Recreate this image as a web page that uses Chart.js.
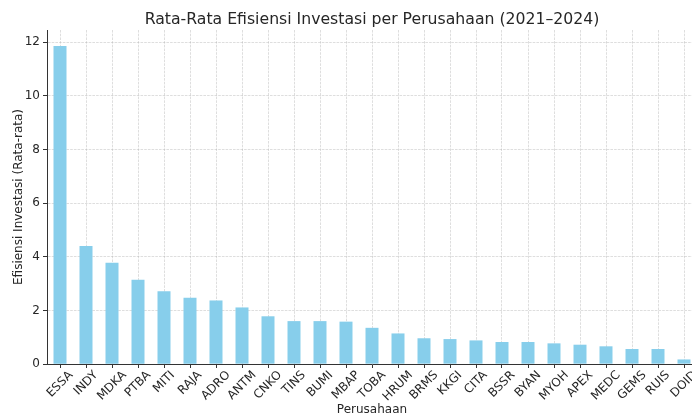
<!DOCTYPE html>
<html>
<head>
<meta charset="utf-8">
<script src="https://cdn.jsdelivr.net/npm/chart.js@4/dist/chart.umd.min.js"></script>
<style>
html,body{margin:0;padding:0;background:#fff;overflow:hidden;}
#wrap{width:692px;height:417px;overflow:hidden;position:relative;}
canvas{display:block;}
</style>
</head>
<body>
<div id="wrap"><canvas id="c" width="744" height="417" style="width:744px;height:417px"></canvas></div>
<script>
const companies = ["ESSA","INDY","MDKA","PTBA","MITI","RAJA","ADRO","ANTM","CNKO","TINS","BUMI","MBAP","TOBA","HRUM","BRMS","KKGI","CITA","BSSR","BYAN","MYOH","APEX","MEDC","GEMS","RUIS","DOID"];
const efficiency = [11.86,4.40,3.78,3.14,2.71,2.47,2.37,2.11,1.78,1.60,1.60,1.58,1.35,1.14,0.96,0.93,0.88,0.82,0.82,0.77,0.72,0.66,0.56,0.56,0.17];
const yTicks = [0,2,4,6,8,10,12];
const titleText = "Rata-Rata Efisiensi Investasi per Perusahaan (2021–2024)";
const xTitle = "Perusahaan";
const yTitle = "Efisiensi Investasi (Rata-rata)";

const FONT = "'DejaVu Sans', sans-serif";
const TEXT = '#262626';
const gridColor = "rgba(176,176,176,0.6)";

// Title centred over the plot area (like matplotlib)
const titlePlugin = {
  id: 'axTitle',
  afterDraw(chart) {
    const {ctx, chartArea} = chart;
    ctx.save();
    ctx.font = "15.7px " + FONT;
    ctx.fillStyle = TEXT;
    ctx.textAlign = 'center';
    ctx.textBaseline = 'alphabetic';
    ctx.fillText(titleText, (chartArea.left + chartArea.right) / 2, 24);
    ctx.restore();
  }
};
// Category labels rotated 45° about their centre, centred under each tick
const rotLabels = {
  id: 'rotLabels',
  afterDraw(chart) {
    const {ctx} = chart;
    const xs = chart.scales.x;
    ctx.save();
    ctx.font = "12px " + FONT;
    ctx.fillStyle = TEXT;
    ctx.textAlign = 'center';
    ctx.textBaseline = 'middle';
    xs.getLabels().forEach((lab, i) => {
      const x = xs.getPixelForTick(i);
      const w = ctx.measureText(lab).width;
      const top = xs.top + 6;
      const y = top + (w + 9) * 0.7071 / 2;
      ctx.save();
      ctx.translate(x, y);
      ctx.rotate(-Math.PI / 4);
      ctx.fillText(lab, 0, 0);
      ctx.restore();
    });
    ctx.restore();
  }
};

new Chart(document.getElementById('c'), {
  type: 'bar',
  data: {
    labels: companies,
    datasets: [{
      data: efficiency,
      backgroundColor: '#87CEEB',
      borderWidth: 0,
      barPercentage: 0.5,
      categoryPercentage: 1.0
    }]
  },
  plugins: [titlePlugin, rotLabels],
  options: {
    responsive: false,
    animation: false,
    devicePixelRatio: 1,
    layout: { padding: { left: 0, right: 47, top: 30, bottom: 0 } },
    plugins: {
      legend: { display: false },
      tooltip: { enabled: false },
      title: { display: false }
    },
    scales: {
      x: {
        z: 1,
        offset: true,
        grid: { display: true, offset: false, color: gridColor, lineWidth: 0.7,
                drawTicks: true, tickLength: 4, tickColor: '#333', tickBorderDash: [], tickWidth: 1 },
        border: { display: true, color: '#333', width: 1, dash: [2.6,1.1] },
        ticks: { display: false, autoSkip: false },
        title: { display: true, text: xTitle, color: TEXT, font: { family: FONT, size: 12 }, padding: { top: 0, bottom: 0 } },
        afterFit: s => { s.height = 53; }
      },
      y: {
        z: 1,
        min: 0, max: 12.46,
        afterBuildTicks: s => { s.ticks = yTicks.map(v => ({ value: v })); },
        grid: { color: gridColor, lineWidth: 0.7,
                drawTicks: true, tickLength: 4, tickColor: '#333', tickBorderDash: [], tickWidth: 1 },
        border: { display: true, color: '#333', width: 1, dash: [2.6,1.1] },
        ticks: { color: TEXT, font: { family: FONT, size: 12 }, padding: 3 },
        title: { display: true, text: yTitle, color: TEXT, font: { family: FONT, size: 12 }, padding: { top: 12, bottom: 0 } },
        afterFit: s => { s.width = 47; }
      }
    }
  }
});
</script>
</body>
</html>
